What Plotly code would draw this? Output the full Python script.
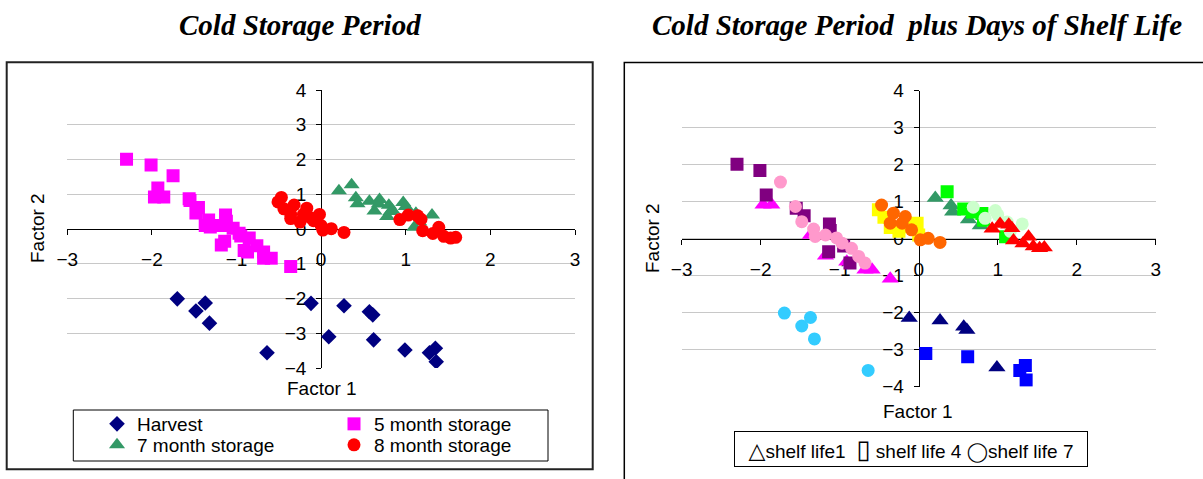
import plotly.graph_objects as go

W, H = 1203, 479

# Factor scores (Factor 1, Factor 2) by storage period and day of shelf life
harvest_sl1_x = [-0.12, 0.27, 0.57, 0.61, 0.99]
harvest_sl1_y = [-2.14, -2.21, -2.38, -2.47, -3.48]
harvest_sl4_x = [0.09, 0.62, 1.28, 1.35, 1.36]
harvest_sl4_y = [-3.10, -3.19, -3.56, -3.43, -3.82]
harvest_sl7_x = [-1.70, -1.48, -1.37, -1.32, -0.64]
harvest_sl7_y = [-2.01, -2.36, -2.13, -2.71, -3.56]

m5_sl1_x = [-1.97, -1.86, -1.37, -1.18, -0.91, -0.68, -0.59, -0.36]
m5_sl1_y = [0.92, 0.92, 0.10, -0.46, -0.62, -0.84, -0.84, -1.08]
m5_sl4_x = [-2.30, -2.01, -1.93, -1.55, -1.45, -1.13, -1.12, -1.14, -0.95, -0.87]
m5_sl4_y = [2.01, 1.84, 1.18, 0.82, 0.62, 0.40, 0.22, -0.35, -0.20, -0.66]
m5_sl7_x = [-1.75, -1.56, -1.48, -1.33, -1.31, -1.18, -1.04, -0.97, -0.85, -0.76, -0.68]
m5_sl7_y = [1.53, 0.87, 0.46, 0.26, 0.06, 0.10, 0.02, -0.12, -0.26, -0.48, -0.66]

m7_sl1_x = [0.21, 0.41, 0.43, 0.63, 0.78]
m7_sl1_y = [1.10, 0.90, 0.73, 0.52, 0.36]
m7_sl4_x = [0.36, 0.57, 0.68, 0.80, 0.82, 1.10]
m7_sl4_y = [1.27, 0.80, 0.72, 0.68, 0.50, 0.05]
m7_sl7_x = [0.69, 0.84, 0.97, 1.00, 1.12, 1.16, 1.31]
m7_sl7_y = [0.85, 0.55, 0.76, 0.65, 0.45, 0.20, 0.40]

m8_sl1_x = [0.93, 1.03, 1.14, 1.18, 1.20, 1.32, 1.39, 1.45, 1.53, 1.59]
m8_sl1_y = [0.27, 0.40, 0.38, 0.28, -0.05, -0.13, 0.05, -0.21, -0.26, -0.24]
m8_sl4_x = [-0.51, -0.44, -0.36, -0.25, -0.12, -0.02, 0.00]
m8_sl4_y = [0.78, 0.58, 0.30, 0.20, 0.32, 0.42, 0.10]
m8_sl7_x = [-0.47, -0.36, -0.32, -0.21, -0.17, -0.09, 0.02, 0.12, 0.27]
m8_sl7_y = [0.91, 0.42, 0.69, 0.42, 0.60, 0.24, -0.03, 0.01, -0.10]

x_ticks = [-3, -2, -1, 0, 1, 2, 3]
y_ticks = [-4, -3, -2, -1, 0, 1, 2, 3, 4]

# (storage label, [(x, y) for shelf-life day 1, 4, 7])
groups = [
    ("Harvest", [(harvest_sl1_x, harvest_sl1_y), (harvest_sl4_x, harvest_sl4_y), (harvest_sl7_x, harvest_sl7_y)]),
    ("5 month storage", [(m5_sl1_x, m5_sl1_y), (m5_sl4_x, m5_sl4_y), (m5_sl7_x, m5_sl7_y)]),
    ("7 month storage", [(m7_sl1_x, m7_sl1_y), (m7_sl4_x, m7_sl4_y), (m7_sl7_x, m7_sl7_y)]),
    ("8 month storage", [(m8_sl1_x, m8_sl1_y), (m8_sl4_x, m8_sl4_y), (m8_sl7_x, m8_sl7_y)]),
]

# styling for the storage-period panel
storage_style = {
    "Harvest": dict(symbol="diamond", color="#000080", size=12, legend="legend"),
    "5 month storage": dict(symbol="square", color="#FF00FF", size=13, legend="legend"),
    "7 month storage": dict(symbol="triangle-up", color="#339966", size=14, legend="legend2"),
    "8 month storage": dict(symbol="circle", color="#FF0000", size=13, legend="legend2"),
}
# shelf-life symbols and colours per storage period for the second panel
shelf_symbols = ["triangle-up", "square", "circle"]
shelf_sizes = [15, 13, 13]
shelf_colors = {
    "Harvest": ["#000080", "#0000FF", "#33CCFF"],
    "5 month storage": ["#FF00FF", "#800080", "#FF99CC"],
    "7 month storage": ["#339966", "#00FF00", "#CCFFCC"],
    "8 month storage": ["#FF0000", "#FFFF00", "#FF6600"],
}

SANS = "Liberation Sans"
SERIF = "Liberation Serif"

fig = go.Figure()

# left panel: one series per storage period
for name, parts in groups:
    st = storage_style[name]
    xs = [v for px_, _ in parts for v in px_]
    ys = [v for _, py_ in parts for v in py_]
    fig.add_trace(go.Scatter(
        x=xs, y=ys, mode="markers", name=name, xaxis="x", yaxis="y",
        legend=st["legend"],
        marker=dict(symbol=st["symbol"], color=st["color"], size=st["size"], line=dict(width=0)),
    ))

# right panel: storage period x shelf-life day
for name, parts in groups:
    for k, (xs, ys) in enumerate(parts):
        fig.add_trace(go.Scatter(
            x=xs, y=ys, mode="markers", showlegend=False, xaxis="x2", yaxis="y2",
            marker=dict(symbol=shelf_symbols[k], color=shelf_colors[name][k],
                        size=shelf_sizes[k], line=dict(width=0)),
        ))


def fx(px):
    return px / W


def fy(py):
    return 1 - py / H


xr, yr = [-3, 3], [-4, 4]
# plot areas in pixels
left_dx, left_dy = (67.3, 575.0), (368.0, 90.0)
right_dx, right_dy = (681.7, 1155.7), (386.7, 90.7)


def zero_pos(dom, rng):
    return dom[0] + (0 - rng[0]) / (rng[1] - rng[0]) * (dom[1] - dom[0])


def axes(dx, dy):
    xdom = [fx(dx[0]), fx(dx[1])]
    ydom = [fy(dy[0]), fy(dy[1])]
    tickfont = dict(family=SANS, size=19, color="black")
    xa = dict(domain=xdom, range=xr, anchor="free", position=zero_pos(ydom, yr),
              tickvals=x_ticks, showgrid=False, zeroline=False, showline=True,
              linecolor="black", linewidth=1, ticks="outside", ticklen=5, tickcolor="black",
              tickfont=tickfont, ticklabelstandoff=8, layer="below traces", fixedrange=True)
    ya = dict(domain=ydom, range=yr, anchor="free", position=zero_pos(xdom, xr),
              tickvals=y_ticks, showgrid=True, gridcolor="#C8C8C8", gridwidth=1,
              zeroline=False, showline=True, linecolor="black", linewidth=1,
              ticks="outside", ticklen=5, tickcolor="black", tickfont=tickfont,
              ticklabelstandoff=6, layer="below traces", fixedrange=True)
    return xa, ya


xa1, ya1 = axes(left_dx, left_dy)
xa2, ya2 = axes(right_dx, right_dy)

title_font = dict(family=SERIF, size=29, color="black", weight="bold", style="italic")
label_font = dict(family=SANS, size=19, color="black")

annotations = [
    dict(text="Cold Storage Period", x=fx(300), y=fy(25), font=title_font),
    dict(text="Cold Storage Period  plus Days of Shelf Life", x=fx(917), y=fy(25), font=title_font),
    dict(text="Factor 1", x=fx(322), y=fy(388), font=label_font),
    dict(text="Factor 2", x=fx(38), y=fy(228), font=label_font, textangle=-90),
    dict(text="Factor 1", x=fx(918), y=fy(411), font=label_font),
    dict(text="Factor 2", x=fx(652), y=fy(238), font=label_font, textangle=-90),
    dict(text="<span style='font-family:DejaVu Sans;font-size:22px'>△</span>shelf life1  "
              "<span style='font-family:DejaVu Sans;font-size:26px'>▯</span> shelf life 4 "
              "<span style='font-family:DejaVu Sans;font-size:19px'>◯</span>shelf life 7",
         x=fx(911), y=fy(449), font=dict(family=SANS, size=19, color="black"),
         bordercolor="black", borderwidth=1, borderpad=3, width=346, height=28),
]
for a in annotations:
    a.update(xref="paper", yref="paper", showarrow=False, xanchor="center", yanchor="middle")

shapes = [
    # panel frames
    dict(type="rect", x0=fx(6.7), x1=fx(592.7), y0=fy(469.3), y1=fy(62.3),
         line=dict(color="#222222", width=2)),
    dict(type="path", path=f"M {fx(624.3)},{fy(479)} L {fx(624.3)},{fy(62.5)} L {fx(1203)},{fy(62.5)}",
         line=dict(color="black", width=1.5)),
    # legend box of the left panel
    dict(type="rect", x0=fx(73.3), x1=fx(548), y0=fy(461), y1=fy(410),
         line=dict(color="black", width=1)),
]
for s in shapes:
    s.update(xref="paper", yref="paper", layer="above")

legend_common = dict(orientation="h", xanchor="left", yanchor="middle", entrywidth=192,
                     bgcolor="rgba(0,0,0,0)", borderwidth=0,
                     font=dict(family=SANS, size=19, color="black"), itemwidth=30)

fig.update_layout(
    width=W, height=H, margin=dict(l=0, r=0, t=0, b=0, autoexpand=False),
    paper_bgcolor="white", plot_bgcolor="white",
    xaxis=xa1, yaxis=ya1, xaxis2=xa2, yaxis2=ya2,
    annotations=annotations, shapes=shapes,
    legend=dict(x=fx(97), y=fy(424), **legend_common),
    legend2=dict(x=fx(97), y=fy(445), **legend_common),
    hovermode=False,
)

# page without the default body margin so the figure fills the window exactly
page_css = ("document.documentElement.style.margin='0';"
            "document.body.style.margin='0';"
            "document.body.style.overflow='hidden';")

fig.write_html("out.html", config={"displayModeBar": False}, post_script=page_css)
